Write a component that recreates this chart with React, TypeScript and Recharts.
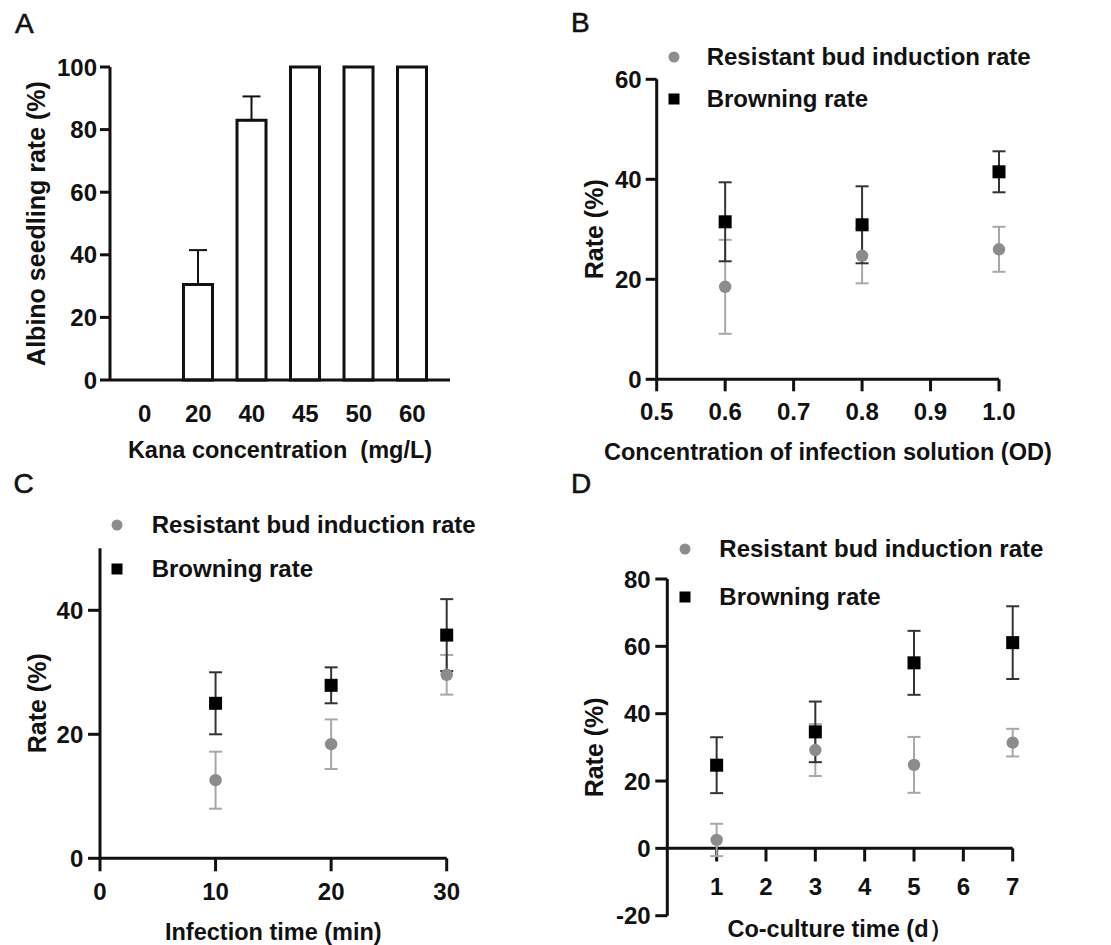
import React from 'react';
import {
  BarChart,
  Bar,
  ScatterChart,
  Scatter,
  XAxis,
  YAxis,
  ErrorBar,
  Legend,
  ReferenceLine,
} from 'recharts';

const FONT = '"Liberation Sans", Arial, Helvetica, sans-serif';
const INK = '#111';
const GRAY_PT = '#8c8c8c';
const GRAY_ERR = '#a8a8a8';
const BLACK_PT = '#000';
const BLACK_ERR = '#333';

// ---- Panel A: albino seedling rate ----
const kanaConc = ['0', '20', '40', '45', '50', '60'];
const albinoRate = [0, 30.5, 83, 100, 100, 100];
const albinoErrUp = [0, 11, 7.6, 0, 0, 0];
const albinoTicks = [0, 20, 40, 60, 80, 100];

// ---- Panel B: concentration of infection solution ----
const odX = [0.6, 0.8, 1.0];
const odResistant = [18.5, 24.7, 26.0];
const odResistantErr = [9.4, 5.5, 4.5];
const odBrowning = [31.5, 30.9, 41.5];
const odBrowningErr = [7.9, 7.7, 4.1];
const odXTicks = [0.5, 0.6, 0.7, 0.8, 0.9, 1.0];
const odYTicks = [0, 20, 40, 60];

// ---- Panel C: infection time ----
const timeX = [10, 20, 30];
const timeResistant = [12.6, 18.4, 29.6];
const timeResistantErr = [4.6, 4.0, 3.2];
const timeBrowning = [25.0, 27.9, 36.0];
const timeBrowningErr = [5.0, 2.9, 5.8];
const timeXTicks = [0, 10, 20, 30];
const timeYTicks = [0, 20, 40];

// ---- Panel D: co-culture time ----
const dayX = [1, 3, 5, 7];
const dayResistant = [2.5, 29.2, 24.8, 31.4];
const dayResistantErr = [4.8, 7.7, 8.3, 4.1];
const dayBrowning = [24.7, 34.6, 55.1, 61.1];
const dayBrowningErr = [8.3, 9.0, 9.5, 10.8];
const dayXTicks = [1, 2, 3, 4, 5, 6, 7];
const dayYTicks = [-20, 0, 20, 40, 60, 80];

const LEGEND_RESISTANT = 'Resistant bud induction rate';
const LEGEND_BROWNING = 'Browning rate';

const albinoData = kanaConc.map((c, i) => ({
  conc: c,
  value: albinoRate[i],
  err: [0, albinoErrUp[i]],
}));

const toPoints = (xs: number[], ys: number[], es: number[]) =>
  xs.map((x, i) => ({ x, y: ys[i], err: es[i] }));

const axisLine = { stroke: INK, strokeWidth: 3 };
const tickLine = { stroke: INK, strokeWidth: 3 };
const tickStyle = { fill: INK, fontSize: 24, fontWeight: 700, fontFamily: FONT };
const xTitleStyle = { fill: INK, fontSize: 23.5, fontWeight: 700, fontFamily: FONT };
const yTitleStyle = { fill: INK, fontSize: 25, fontWeight: 700, fontFamily: FONT };

const CircleShape = (props: any) => (
  <circle cx={props.cx} cy={props.cy} r={6.2} fill={GRAY_PT} />
);
const SquareShape = (props: any) => (
  <rect x={props.cx - 6.5} y={props.cy - 6.5} width={13} height={13} fill={BLACK_PT} />
);

const makeLegend = (iconX: number, textX: number, rowYs: number[]) => () => (
  <div
    style={{
      position: 'relative',
      width: 470,
      height: 150,
      fontFamily: FONT,
      fontWeight: 700,
      fontSize: 24,
      color: INK,
    }}
  >
    {[LEGEND_RESISTANT, LEGEND_BROWNING].map((name, i) => (
      <React.Fragment key={name}>
        <svg
          width={14}
          height={14}
          style={{ position: 'absolute', left: iconX - 7, top: rowYs[i] - 7 }}
        >
          {i === 0 ? (
            <circle cx={7} cy={7} r={5.5} fill={GRAY_PT} />
          ) : (
            <rect x={1.5} y={1.5} width={11} height={11} fill={BLACK_PT} />
          )}
        </svg>
        <div
          style={{
            position: 'absolute',
            left: textX,
            top: rowYs[i] - 14,
            height: 28,
            lineHeight: '28px',
            whiteSpace: 'nowrap',
          }}
        >
          {name}
        </div>
      </React.Fragment>
    ))}
  </div>
);

const legendWrap = { left: 0, top: 0, width: 470, height: 150 };

function PanelA() {
  return (
    <BarChart
      width={555}
      height={470}
      data={albinoData}
      margin={{ top: 67, right: 105, bottom: 30, left: 20 }}
    >
      <XAxis
        dataKey="conc"
        type="category"
        height={60}
        padding={{ left: 8, right: 11 }}
        axisLine={axisLine}
        tickLine={false}
        tickSize={0}
        tickMargin={25}
        tick={tickStyle}
        label={{ value: 'Kana concentration\u00a0 (mg/L)', position: 'insideTop', offset: 61, ...xTitleStyle }}
      />
      <YAxis
        type="number"
        domain={[0, 100]}
        ticks={albinoTicks}
        width={90}
        axisLine={axisLine}
        tickLine={tickLine}
        tickSize={10}
        tickMargin={3}
        tick={tickStyle}
        interval={0}
        label={{ value: 'Albino seedling rate (%)', angle: -90, position: 'insideLeft', offset: 16, ...yTitleStyle, style: { textAnchor: 'middle' } }}
      />
      <Bar
        dataKey="value"
        fill="#fff"
        stroke={INK}
        strokeWidth={3}
        barSize={29}
        isAnimationActive={false}
      >
        <ErrorBar dataKey="err" direction="y" width={9} stroke={INK} strokeWidth={2} />
      </Bar>
    </BarChart>
  );
}

interface ScatterPanelProps {
  width: number;
  height: number;
  margin: { top: number; right: number; bottom: number; left: number };
  yWidth: number;
  yOffset: number;
  xDomain: [number, number];
  xTicks: number[];
  yDomain: [number, number];
  yTicks: number[];
  xTitle: string;
  xTitleOffset: number;
  xTickSize: number;
  xTickMargin: number;
  yTickSize: number;
  yTickMargin: number;
  xFormatter?: (v: number) => string;
  resistant: { x: number; y: number; err: number }[];
  browning: { x: number; y: number; err: number }[];
  legend: () => React.ReactElement;
}

function ScatterPanel(p: ScatterPanelProps) {
  return (
    <ScatterChart width={p.width} height={p.height} margin={p.margin}>
      <XAxis
        type="number"
        dataKey="x"
        domain={p.xDomain}
        ticks={p.xTicks}
        interval={0}
        height={60}
        axisLine={axisLine}
        tickLine={tickLine}
        tickSize={p.xTickSize}
        tickMargin={p.xTickMargin}
        tick={tickStyle}
        tickFormatter={p.xFormatter}
        label={{ value: p.xTitle, position: 'insideTop', offset: p.xTitleOffset, ...xTitleStyle }}
      />
      <YAxis
        type="number"
        dataKey="y"
        domain={p.yDomain}
        ticks={p.yTicks}
        interval={0}
        width={p.yWidth}
        axisLine={axisLine}
        tickLine={tickLine}
        tickSize={p.yTickSize}
        tickMargin={p.yTickMargin}
        tick={tickStyle}
        label={{ value: 'Rate (%)', angle: -90, position: 'insideLeft', offset: p.yOffset, ...yTitleStyle, style: { textAnchor: 'middle' } }}
      />
      <Legend
        layout="vertical"
        align="center"
        verticalAlign="middle"
        content={p.legend}
        wrapperStyle={legendWrap}
      />
      <Scatter
        name={LEGEND_RESISTANT}
        data={p.resistant}
        shape={CircleShape}
        isAnimationActive={false}
      >
        <ErrorBar dataKey="err" direction="y" width={6.5} stroke={GRAY_ERR} strokeWidth={2} />
      </Scatter>
      <Scatter
        name={LEGEND_BROWNING}
        data={p.browning}
        shape={SquareShape}
        isAnimationActive={false}
      >
        <ErrorBar dataKey="err" direction="y" width={6.5} stroke={BLACK_ERR} strokeWidth={2} />
      </Scatter>
    </ScatterChart>
  );
}

function PanelD() {
  return (
    <ScatterChart width={551} height={475} margin={{ top: 109, right: 98.3, bottom: 0, left: 20 }}>
      <XAxis
        type="number"
        dataKey="x"
        domain={[0, 7]}
        ticks={dayXTicks}
        height={29.3}
        axisLine={false}
        tickLine={false}
        tick={false}
        label={{ value: 'Co-culture time (d）', position: 'insideTop', offset: 5, ...xTitleStyle }}
      />
      <YAxis
        type="number"
        dataKey="y"
        domain={[-20, 80]}
        ticks={dayYTicks}
        interval={0}
        width={87.3}
        axisLine={axisLine}
        tickLine={tickLine}
        tickSize={12}
        tickMargin={4.7}
        tick={tickStyle}
        label={{ value: 'Rate (%)', angle: -90, position: 'insideLeft', offset: 14, ...yTitleStyle, style: { textAnchor: 'middle' } }}
      />
      <ReferenceLine y={0} stroke={INK} strokeWidth={3} ifOverflow="visible" />
      {dayXTicks.map((d) => (
        <ReferenceLine
          key={d}
          segment={[
            { x: d, y: 0 },
            { x: d, y: -3.9 },
          ]}
          stroke={INK}
          strokeWidth={3}
          ifOverflow="visible"
          label={{ value: String(d), position: 'bottom', offset: 16, ...tickStyle }}
        />
      ))}
      <Legend
        layout="vertical"
        align="center"
        verticalAlign="middle"
        content={makeLegend(125, 159.3, [79, 126.7])}
        wrapperStyle={legendWrap}
      />
      <Scatter
        name={LEGEND_RESISTANT}
        data={toPoints(dayX, dayResistant, dayResistantErr)}
        shape={CircleShape}
        isAnimationActive={false}
      >
        <ErrorBar dataKey="err" direction="y" width={6.5} stroke={GRAY_ERR} strokeWidth={2} />
      </Scatter>
      <Scatter
        name={LEGEND_BROWNING}
        data={toPoints(dayX, dayBrowning, dayBrowningErr)}
        shape={SquareShape}
        isAnimationActive={false}
      >
        <ErrorBar dataKey="err" direction="y" width={6.5} stroke={BLACK_ERR} strokeWidth={2} />
      </Scatter>
    </ScatterChart>
  );
}

const panelLetter = { fontFamily: FONT, fontSize: 28, fill: INK, stroke: INK, strokeWidth: 0.6 };

export default function App() {
  return (
    <div
      style={{
        position: 'absolute',
        left: 0,
        top: 0,
        width: 1111,
        height: 945,
        background: '#fff',
        overflow: 'hidden',
      }}
    >
      <div style={{ position: 'absolute', left: 0, top: 0 }}>
        <PanelA />
      </div>
      <div style={{ position: 'absolute', left: 560, top: 0 }}>
        <ScatterPanel
          width={551}
          height={470}
          margin={{ top: 79.3, right: 112, bottom: 30.7, left: 20 }}
          yWidth={76.7}
          yOffset={14}
          xDomain={[0.5, 1.0]}
          xTicks={odXTicks}
          yDomain={[0, 60]}
          yTicks={odYTicks}
          xTitle="Concentration of infection solution (OD)"
          xTitleOffset={64}
          xTickSize={12}
          xTickMargin={12}
          yTickSize={11}
          yTickMargin={4}
          xFormatter={(v: number) => v.toFixed(1)}
          resistant={toPoints(odX, odResistant, odResistantErr)}
          browning={toPoints(odX, odBrowning, odBrowningErr)}
          legend={makeLegend(114, 146.7, [56.7, 99])}
        />
      </div>
      <div style={{ position: 'absolute', left: 0, top: 470 }}>
        <ScatterPanel
          width={555}
          height={475}
          margin={{ top: 78.3, right: 108.3, bottom: 26.7, left: 20 }}
          yWidth={80}
          yOffset={16.7}
          xDomain={[0, 30]}
          xTicks={timeXTicks}
          yDomain={[0, 50]}
          yTicks={timeYTicks}
          xTitle="Infection time (min)"
          xTitleOffset={65}
          xTickSize={13}
          xTickMargin={12}
          yTickSize={12}
          yTickMargin={4.7}
          resistant={toPoints(timeX, timeResistant, timeResistantErr)}
          browning={toPoints(timeX, timeBrowning, timeBrowningErr)}
          legend={makeLegend(117, 151.7, [55, 99])}
        />
      </div>
      <div style={{ position: 'absolute', left: 560, top: 470 }}>
        <PanelD />
      </div>
      <svg
        width={1111}
        height={945}
        style={{ position: 'absolute', left: 0, top: 0, pointerEvents: 'none' }}
      >
        <text x={15} y={33} {...panelLetter}>A</text>
        <text x={571} y={32} {...panelLetter}>B</text>
        <text x={13.5} y={493} {...panelLetter}>C</text>
        <text x={571} y={493} {...panelLetter}>D</text>
      </svg>
    </div>
  );
}
